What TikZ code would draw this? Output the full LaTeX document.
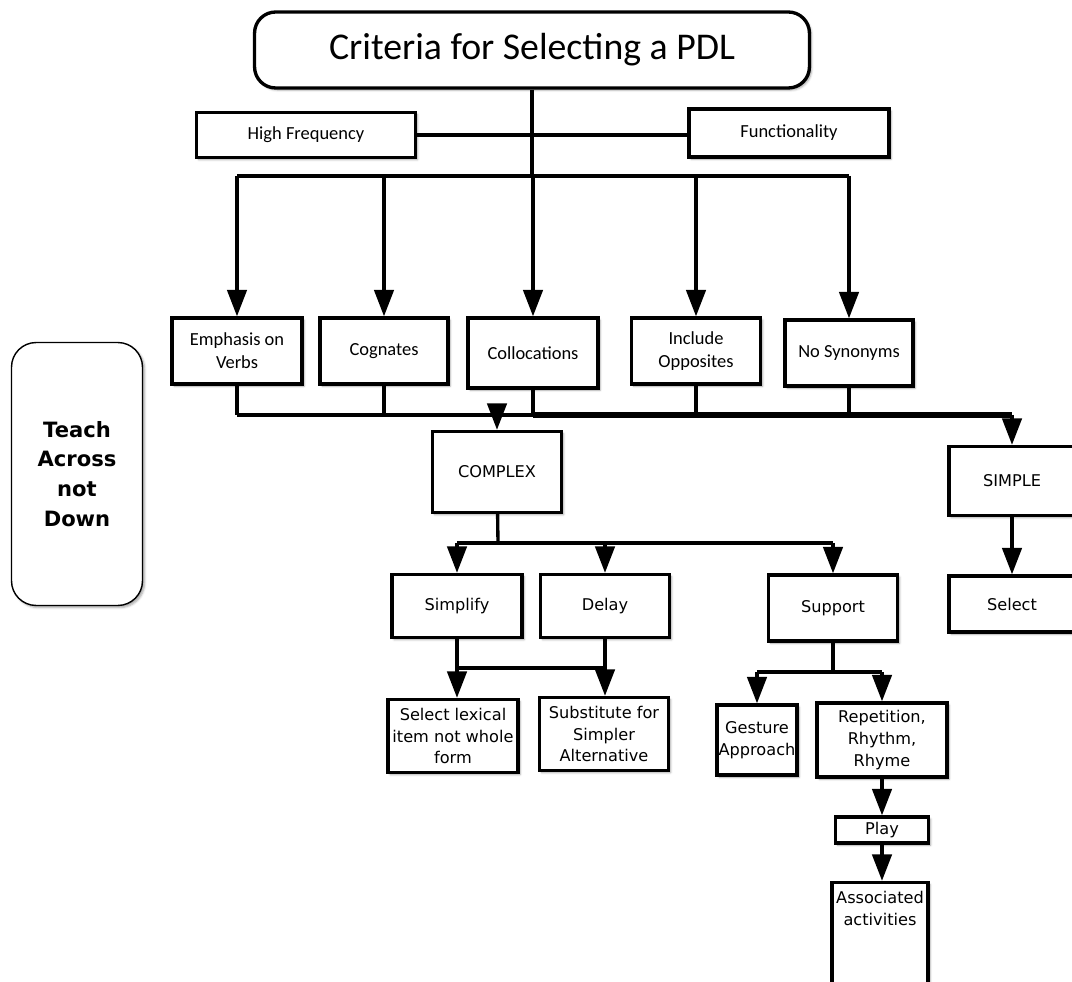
\documentclass[tikz,border=0pt]{standalone}
\usepackage{fontspec}
\setmainfont{Carlito}
\newfontfamily\tahoma{DejaVu Sans}
\usetikzlibrary{arrows.meta,shadows.blur,positioning}

\begin{document}
\begin{tikzpicture}[x=0.02cm, y=-0.02cm,
		box/.style={draw, line width=1.9pt, fill=white, align=center, inner sep=2pt, font=\fontsize{10.5}{13}\selectfont, blur shadow={shadow xshift=1.2pt, shadow yshift=-1.2pt, shadow blur radius=1.2pt, shadow opacity=35}},
		lowbox/.style={box, font=\tahoma\fontsize{9.2}{12.5}\selectfont},
		link/.style={line width=1.9pt},
		arr/.style={link, -{Triangle[width=11pt, length=15pt]}},
		heavy/.style={line width=3pt}]
		\useasboundingbox (0,0) rectangle (1072,982);

		\node[box, rounded corners=12pt, minimum width=11.1cm, minimum height=1.52cm, font=\fontsize{21.5}{24}\selectfont] (title) at (532,50) {Criteria for Selecting a PDL};
		\node[box, minimum width=4.38cm, minimum height=0.9cm] (hifreq) at (306,135) {High Frequency};
		\node[box, minimum width=4.0cm, minimum height=0.96cm] (func) at (789,133) {Functionality};

		\node[box, minimum width=2.6cm, minimum height=1.32cm] (emph) at (237,351) {Emphasis on\\Verbs};
		\node[box, minimum width=2.56cm, minimum height=1.32cm] (cogn) at (384,351) {Cognates};
		\node[box, minimum width=2.6cm, minimum height=1.4cm] (colloc) at (533,353) {Collocations};
		\node[box, minimum width=2.58cm, minimum height=1.32cm] (oppos) at (696,351) {Include\\Opposites};
		\node[box, minimum width=2.56cm, minimum height=1.32cm] (nosyn) at (849,353) {No Synonyms};

		\node[box, rounded corners=14pt, line width=0.8pt, minimum width=2.62cm, minimum height=5.26cm, font=\tahoma\bfseries\fontsize{12}{17}\selectfont] (teach) at (77,474) {Teach\\Across\\not\\Down};

		\node[lowbox, minimum width=2.58cm, minimum height=1.62cm] (complex) at (497,472) {COMPLEX};
		\node[lowbox, minimum width=2.52cm, minimum height=1.38cm] (simple) at (1012,481) {SIMPLE};
		\node[lowbox, minimum width=2.52cm, minimum height=1.12cm] (selectS) at (1012,604) {Select};

		\node[lowbox, minimum width=2.6cm, minimum height=1.26cm] (simplify) at (457,606) {Simplify};
		\node[lowbox, minimum width=2.58cm, minimum height=1.26cm] (delay) at (605,606) {Delay};
		\node[lowbox, minimum width=2.58cm, minimum height=1.32cm] (support) at (833,608) {Support};

		\node[lowbox, minimum width=2.6cm, minimum height=1.46cm, inner sep=1pt] (lexical) at (453,736) {Select lexical\\item not whole\\form};
		\node[lowbox, minimum width=2.58cm, minimum height=1.46cm, inner sep=1pt] (subst) at (604,734) {Substitute for\\Simpler\\Alternative};
		\node[lowbox, minimum width=1.6cm, minimum height=1.4cm, inner sep=0.5pt] (gesture) at (757,740) {Gesture\\Approach};
		\node[lowbox, minimum width=2.6cm, minimum height=1.48cm] (repet) at (882,740) {Repetition,\\Rhythm,\\Rhyme};
		\node[lowbox, minimum width=1.86cm, minimum height=0.52cm, inner sep=1pt] (play) at (882,830) {Play};
		\node[lowbox, minimum width=1.92cm, minimum height=2.1cm, text depth=1.05cm, inner sep=1pt] (assoc) at (880,935) {Associated\\activities};

		\coordinate (hub) at (532,176);
		\coordinate (lowbus) at (532,415);
		\coordinate (midbus) at (498,543);
		\coordinate (lexbus) at (530,668);
		\coordinate (supbus) at (833,672);

		\draw[link] (title) -- (hub);
		\draw[link] (hifreq.east) -- (hifreq.east -| func.west);
		\draw[link] (emph.north |- hub) -- (nosyn.north |- hub);
		\foreach \n in {emph,cogn,colloc,oppos,nosyn}
			\draw[arr] (\n.north |- hub) -- (\n.north);

		\foreach \n in {emph,cogn,colloc,oppos,nosyn}
			\draw[link] (\n.south) -- (\n.south |- lowbus);
		\draw[link] (emph.south |- lowbus) -- (colloc.south |- lowbus);
		\draw[heavy] (colloc.south |- lowbus) -- (simple.north |- lowbus);
		\draw[arr] (complex.north |- lowbus) -- (complex.north);
		\draw[arr] (simple.north |- lowbus) -- (simple.north);
		\draw[arr] (simple) -- (selectS);

		\draw[link] (complex) -- (midbus);
		\draw[link] (simplify.north |- midbus) -- (support.north |- midbus);
		\foreach \n in {simplify,delay,support}
			\draw[arr] (\n.north |- midbus) -- (\n.north);

		\draw[link] (simplify.south) -- (simplify.south |- lexbus) -- (delay.south |- lexbus) -- (delay.south);
		\draw[arr] (simplify.south |- lexbus) -- (simplify.south |- lexical.north);
		\draw[arr] (delay.south |- lexbus) -- (delay.south |- subst.north);

		\draw[link] (support) -- (supbus);
		\draw[link] (gesture.north |- supbus) -- (repet.north |- supbus);
		\draw[arr] (gesture.north |- supbus) -- (gesture.north);
		\draw[arr] (repet.north |- supbus) -- (repet.north);
		\draw[arr] (repet) -- (play);
		\draw[arr] (play) -- (assoc.north -| play);
	\end{tikzpicture}
\end{document}
